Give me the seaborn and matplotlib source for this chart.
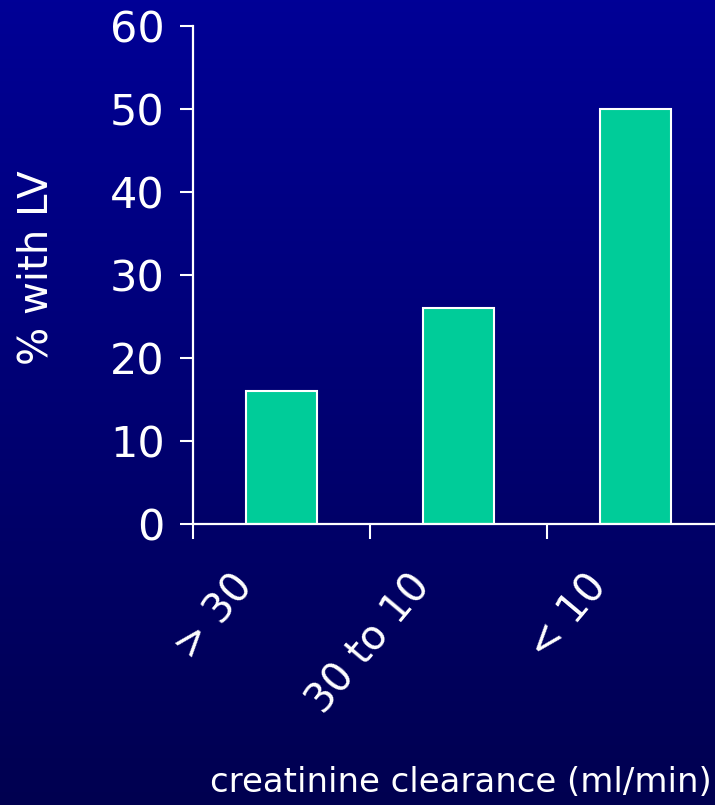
import numpy as np
import matplotlib
matplotlib.use("Agg")
import matplotlib.pyplot as plt
import matplotlib.transforms as mtransforms
import matplotlib.ticker as ticker
from matplotlib.colors import LinearSegmentedColormap
import seaborn as sns

# datos
categorias = ["> 30", "30 to 10", "< 10"]
porcentajes = [16, 26, 50]
y_ticks = [0, 10, 20, 30, 40, 50, 60]

sns.set_style("white")
plt.rcParams["font.family"] = ["DejaVu Sans"]

blanco = "white"
verde = "#00CC99"

fig = plt.figure(figsize=(7.15, 8.05), dpi=100)

# fondo degradado azul
fondo = fig.add_axes([0, 0, 1, 1], zorder=-10)
grad = np.linspace(0, 1, 256).reshape(-1, 1)
cmap = LinearSegmentedColormap.from_list("fondo", ["#000096", "#000050"])
fondo.imshow(grad, aspect="auto", cmap=cmap, extent=[0, 1, 0, 1])
fondo.axis("off")

ax = fig.add_axes([193 / 715, 281 / 805, 531 / 715, 498 / 805])
ax.set_facecolor("none")

sns.barplot(x=categorias, y=porcentajes, ax=ax, color=verde, width=0.4,
            edgecolor=blanco, linewidth=1.5, saturation=1)

ax.set_ylim(0, 60)
ax.set_xlim(-0.5, 2.5)
ax.set_yticks(y_ticks)

for lado in ["top", "right"]:
    ax.spines[lado].set_visible(False)
for lado in ["left", "bottom"]:
    ax.spines[lado].set_color(blanco)
    ax.spines[lado].set_linewidth(1.6)

ax.tick_params(axis="y", colors=blanco, labelsize=31, length=9.5, width=1.5,
               direction="out", pad=11, left=True)
ax.yaxis.set_major_formatter(ticker.FormatStrFormatter("%d"))

# marcas del eje x entre categorias
ax.xaxis.set_minor_locator(ticker.FixedLocator([-0.5, 0.5, 1.5]))
ax.tick_params(axis="x", which="minor", bottom=True, length=11, width=1.5,
               color=blanco, direction="out")
ax.tick_params(axis="x", which="major", length=0, pad=31, colors=blanco, labelsize=29)

desplaza = mtransforms.ScaledTranslation(-20 / 100, 0, fig.dpi_scale_trans)
for etiqueta in ax.get_xticklabels():
    etiqueta.set_rotation(50)
    etiqueta.set_ha("right")
    etiqueta.set_transform(etiqueta.get_transform() + desplaza)

ax.set_xlabel("")
ax.set_ylabel("")
fig.text(37 / 715, 1 - 268 / 805, "% with LV", rotation=90, color=blanco,
         fontsize=29, ha="center", va="center")
fig.text(712 / 715, 1 - 782 / 805, "creatinine clearance (ml/min)", color=blanco,
         fontsize=24.5, ha="right", va="center")

fig.savefig("out.png", dpi=100)
